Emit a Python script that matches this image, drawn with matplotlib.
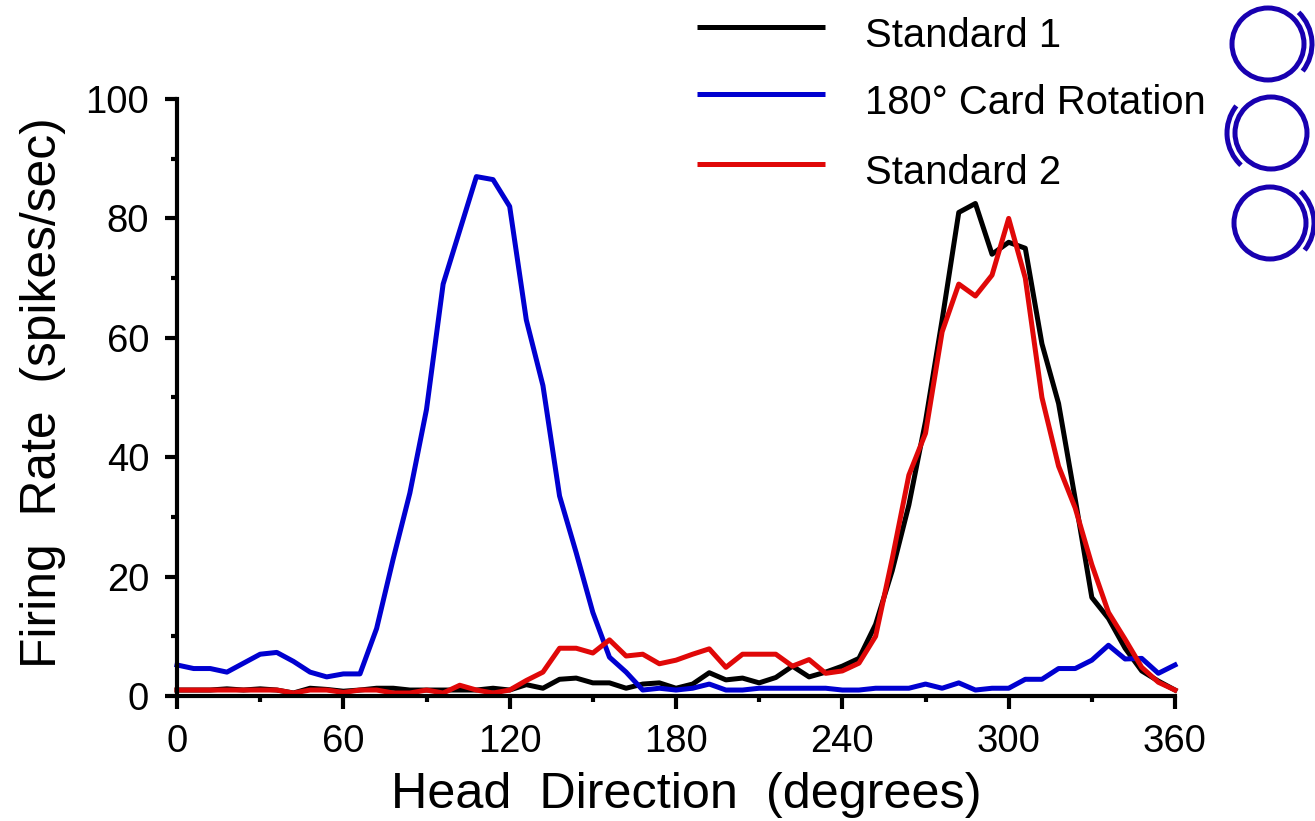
import matplotlib; matplotlib.use("Agg")
import matplotlib.pyplot as plt
from matplotlib.patches import Arc, Circle
from matplotlib.ticker import MultipleLocator

plt.rcParams['font.family'] = ['Liberation Sans', 'DejaVu Sans']

head_direction = list(range(0, 361, 6))

standard_1 = [1, 1, 1, 1.2, 1, 1.2, 1, 0.5, 1.3, 1.1, 0.8, 1, 1.3, 1.3, 1, 1, 1, 1, 1, 1.3, 1,
              1.9, 1.3, 2.8, 3, 2.2, 2.2, 1.3, 2, 2.2, 1.3, 2, 3.9, 2.7, 3, 2.2, 3.1, 5, 3.2, 4, 5,
              6.3, 12, 21, 32, 46, 63, 81, 82.5, 74, 76, 75, 59, 49, 33, 16.5, 13, 8, 4.2, 2.5, 1]
card_rotation = [5.2, 4.6, 4.6, 4, 5.5, 7, 7.3, 5.8, 4, 3.2, 3.7, 3.7, 11.3, 23, 34, 48, 69, 78, 87, 86.5, 82,
                 63, 52, 33.5, 24, 14, 6.5, 4, 1, 1.3, 1, 1.3, 2, 1, 1, 1.3, 1.3, 1.3, 1.3, 1.3, 1,
                 1, 1.3, 1.3, 1.3, 2, 1.3, 2.2, 1, 1.3, 1.3, 2.8, 2.8, 4.6, 4.6, 6, 8.5, 6.2, 6.3, 3.8, 5.2]
standard_2 = [1, 1, 1, 1, 1, 1, 1, 0.5, 1, 1, 0.6, 1, 1, 0.5, 0.5, 1, 0.5, 1.8, 1, 0.5, 1,
              2.6, 4, 8, 8, 7.2, 9.4, 6.7, 7, 5.4, 6, 7, 7.9, 4.8, 7, 7, 7, 5, 6.1, 3.8, 4.2,
              5.5, 10, 23, 37, 44, 61, 69, 67, 70.5, 80, 70, 50, 38.5, 31.5, 22, 14, 9.5, 4.8, 2.3, 1]

W, H = 1315, 821
fig = plt.figure(figsize=(W / 100, H / 100), dpi=100)
ax = fig.add_axes([177 / W, 1 - 696 / H, (1175 - 177) / W, (696 - 99) / H])

ax.plot(head_direction, standard_1, color='black', lw=3.6, label='Standard 1', clip_on=False)
ax.plot(head_direction, card_rotation, color='#0000d0', lw=3.6, label='180° Card Rotation', clip_on=False)
ax.plot(head_direction, standard_2, color='#e00808', lw=3.6, label='Standard 2', clip_on=False)

ax.set_xlim(0, 360)
ax.set_ylim(0, 100)
ax.xaxis.set_major_locator(MultipleLocator(60))
ax.xaxis.set_minor_locator(MultipleLocator(30))
ax.yaxis.set_major_locator(MultipleLocator(20))
ax.yaxis.set_minor_locator(MultipleLocator(10))
ax.spines['top'].set_visible(False)
ax.spines['right'].set_visible(False)
ax.spines['left'].set_linewidth(3)
ax.spines['bottom'].set_linewidth(3)
ax.tick_params(which='major', length=9, width=3, labelsize=27.5, pad=11)
ax.tick_params(which='minor', length=4.5, width=3)
ax.set_xlabel('Head  Direction  (degrees)', fontsize=36.3, va='baseline')
ax.set_ylabel('Firing  Rate  (spikes/sec)', fontsize=35.8, va='baseline')
ax.xaxis.set_label_coords(0.5105, -0.1876)
ax.yaxis.set_label_coords(-0.1212, 0.5075)

# legend and card icons, in pixel coordinates (rows are unevenly spaced)
icons = fig.add_axes([0, 0, 1, 1])
icons.set_xlim(0, W)
icons.set_ylim(0, H)
icons.axis('off')
for line, line_y, text_y in zip(ax.get_lines(), [27, 94, 164], [47, 113.5, 184]):
    icons.plot([697, 825], [H - line_y, H - line_y], color=line.get_color(), lw=3.6, solid_capstyle='butt')
    icons.text(865, H - text_y, line.get_label(), fontsize=28.8, va='baseline')

icon_color = '#1800b0'
for cx, cy, a1, a2 in [(1268, 44, -38, 46), (1271, 133, 142, 227), (1270, 223, -38, 46)]:
    icons.add_patch(Circle((cx, H - cy), 36, fill=False, ec=icon_color, lw=3.6))
    icons.add_patch(Arc((cx, H - cy), 88, 88, theta1=a1, theta2=a2, ec=icon_color, lw=3.6))

fig.savefig('out.png', dpi=100)
